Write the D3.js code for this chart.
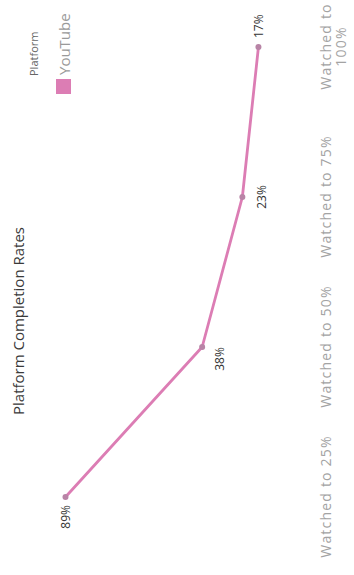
<!DOCTYPE html>
<html>
<head>
<meta charset="utf-8">
<script src="https://cdn.jsdelivr.net/npm/d3@7"></script>
<style>
  html, body { margin: 0; padding: 0; background: #fff; }
  svg { display: block; font-family: "Open Sans", "DejaVu Sans", sans-serif; }
</style>
</head>
<body>
<svg id="chart" width="354" height="575"></svg>
<script>
// Funnel stages and completion rates (%)
const stages = ["Watched to 25%", "Watched to 50%", "Watched to 75%", "Watched to 100%"];
const youtubeRates = [89, 38, 23, 17];
const platforms = ["YouTube"];
// Where each value label sits relative to its point
const labelSides = ["left", "below-left", "below", "right"];

const lineColor = "#dc7db4";
const markerColor = "#b884a6";

// The chart is laid out in a 575 x 354 frame and turned a quarter turn
const W = 575, H = 354;
const svg = d3.select("#chart");
const g = svg.append("g").attr("transform", `translate(0,${W}) rotate(-90)`);

const x = d3.scalePoint().domain(stages).range([78, 528]);
const y = d3.scaleLinear().domain([0, 100]).range([304, 36]);

// Title
g.append("text")
  .attr("x", 254).attr("y", 24)
  .attr("text-anchor", "middle")
  .attr("font-size", 15)
  .attr("fill", "#3a3a3a")
  .text("Platform Completion Rates");

// Legend
g.append("text")
  .attr("x", 499).attr("y", 38)
  .attr("font-size", 11)
  .attr("fill", "#666")
  .text("Platform");
const legendRow = g.append("g").selectAll("g").data(platforms).join("g");
legendRow.append("rect")
  .attr("x", 481).attr("y", 56)
  .attr("width", 15).attr("height", 15)
  .attr("fill", lineColor);
legendRow.append("text")
  .attr("x", 500).attr("y", 70)
  .attr("font-size", 15)
  .attr("fill", "#9a9a9a")
  .text(d => d);

// Category axis (labels only), wrapped where they would run past the edge
const xAxis = g.append("g")
  .attr("transform", "translate(0,318)")
  .call(d3.axisBottom(x).tickSize(0).tickPadding(0));
xAxis.select(".domain").remove();
xAxis.selectAll("text")
  .attr("font-size", 14)
  .attr("font-family", "Open Sans, sans-serif")
  .attr("letter-spacing", "1.2px")
  .attr("fill", "#a3a3a3")
  .attr("dy", 0)
  .each(function(d) {
    const t = d3.select(this);
    const cx = x(d);
    const maxW = Math.min(2 * (W - cx), 2 * cx, x.step()) - 6;
    const words = d.split(" ");
    t.text(null);
    let lines = [], cur = [];
    const probe = t.append("tspan");
    words.forEach(w => {
      const trial = cur.concat(w).join(" ");
      probe.text(trial);
      if (probe.node().getComputedTextLength() > maxW && cur.length) {
        lines.push(cur.join(" "));
        cur = [w];
      } else {
        cur.push(w);
      }
    });
    lines.push(cur.join(" "));
    probe.remove();
    lines.forEach((ln, i) => {
      t.append("tspan")
        .attr("x", 0)
        .attr("y", 13 + i * 15)
        .text(ln);
    });
  });

// Series line
const line = d3.line()
  .x((d, i) => x(stages[i]))
  .y(d => y(d));

g.append("path")
  .datum(youtubeRates)
  .attr("fill", "none")
  .attr("stroke", lineColor)
  .attr("stroke-width", 2.8)
  .attr("stroke-linejoin", "round")
  .attr("d", line);

g.append("g").selectAll("circle")
  .data(youtubeRates)
  .join("circle")
  .attr("cx", (d, i) => x(stages[i]))
  .attr("cy", d => y(d))
  .attr("r", 3)
  .attr("fill", markerColor);

// Value labels
const placements = {
  "left":       { dx: -8,  dy: 0,  anchor: "end" },
  "below-left": { dx: -12, dy: 18, anchor: "middle" },
  "below":      { dx: 0,   dy: 19, anchor: "middle" },
  "right":      { dx: 9,   dy: 0,  anchor: "start" }
};
g.append("g").selectAll("text")
  .data(youtubeRates)
  .join("text")
  .each(function(d, i) {
    const p = placements[labelSides[i]];
    d3.select(this)
      .attr("x", x(stages[i]) + p.dx)
      .attr("y", y(d) + p.dy)
      .attr("dy", "0.35em")
      .attr("text-anchor", p.anchor);
  })
  .attr("font-size", 12)
  .attr("fill", "#333")
  .text(d => d + "%");
</script>
</body>
</html>
